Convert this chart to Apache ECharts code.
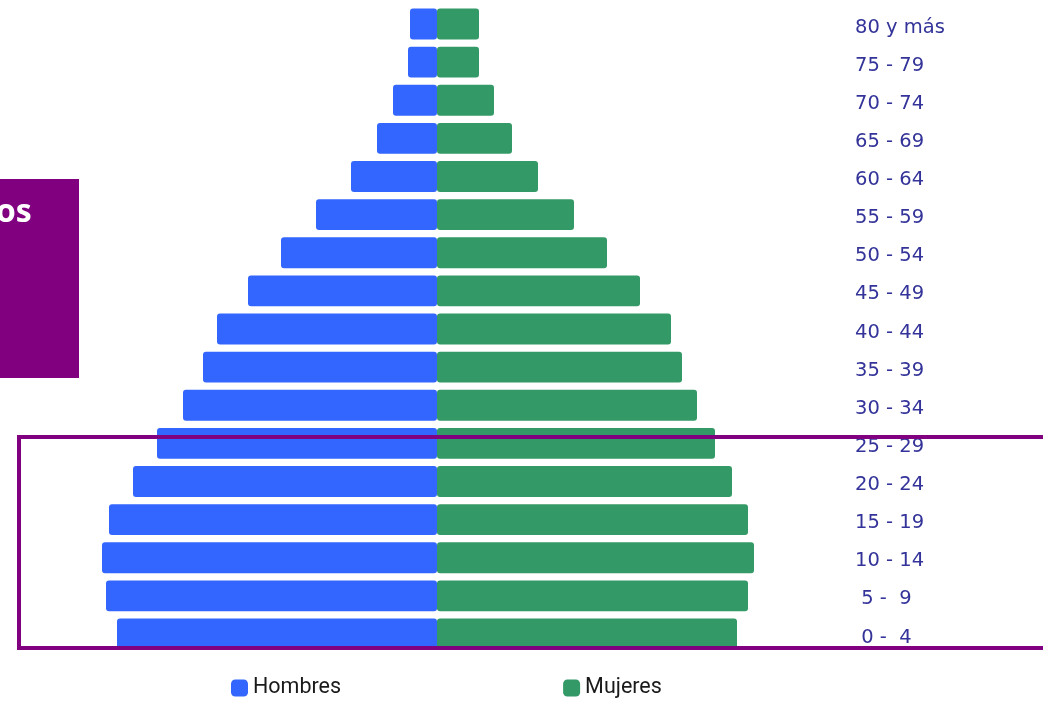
<!DOCTYPE html>
<html>
<head>
<meta charset="utf-8">
<script src="https://cdn.jsdelivr.net/npm/echarts@6/dist/echarts.min.js"></script>
<style>
  html, body { margin: 0; padding: 0; background: #fff; }
  #chart { width: 1043px; height: 702px; }
</style>
</head>
<body>
<div id="chart"></div>
<script>
// age groups, youngest first (category axis draws bottom -> top)
const ageGroups = [
  " 0 -  4", " 5 -  9", "10 - 14", "15 - 19", "20 - 24", "25 - 29",
  "30 - 34", "35 - 39", "40 - 44", "45 - 49", "50 - 54", "55 - 59",
  "60 - 64", "65 - 69", "70 - 74", "75 - 79", "80 y más"
];

// population (thousands)
const hombres = [640, 662, 670, 656, 608, 560, 508, 468, 440, 378, 312, 242, 172, 120, 88, 58, 54];
const mujeres = [600, 622, 634, 622, 590, 556, 520, 490, 468, 406, 340, 274, 202, 150, 114, 84, 84];

const chart = echarts.init(document.getElementById("chart"));

const option = {
  animation: false,
  grid: {
    left: 37,
    width: 800,
    top: 5,
    height: 648
  },
  legend: {
    left: 231,
    top: 677,
    padding: 0,
    itemWidth: 17,
    itemHeight: 17,
    itemGap: 222,
    icon: "roundRect",
    textStyle: {
      fontFamily: "Roboto",
      fontSize: 21.5,
      color: "#1a1a1a"
    },
    data: ["Hombres", "Mujeres"]
  },
  xAxis: {
    type: "value",
    min: -800,
    max: 800,
    show: false
  },
  yAxis: {
    type: "category",
    position: "right",
    data: ageGroups,
    axisLine: { show: false },
    axisTick: { show: false },
    axisLabel: {
      margin: 18,
      align: "left",
      formatter: (v) => "{a|" + v + "}",
      rich: {
        a: {
          color: "#333399",
          fontFamily: "DejaVu Sans",
          fontSize: 19.5,
          padding: [7, 0, 0, 0]
        }
      }
    }
  },
  series: [
    {
      name: "Hombres",
      type: "bar",
      stack: "pop",
      barCategoryGap: "19%",
      data: hombres.map((v) => -v),
      itemStyle: { color: "#3366ff", borderRadius: 3 }
    },
    {
      name: "Mujeres",
      type: "bar",
      stack: "pop",
      barCategoryGap: "19%",
      data: mujeres,
      itemStyle: { color: "#339966", borderRadius: 3 }
    }
  ],
  graphic: [
    {
      type: "rect",
      z: 100,
      shape: { x: 0, y: 179, width: 79, height: 199 },
      style: { fill: "#800080" }
    },
    {
      type: "text",
      z: 101,
      left: -4,
      top: 197,
      style: {
        text: "os",
        fill: "#ffffff",
        font: "bold 32px 'Open Sans'"
      }
    },
    {
      type: "rect",
      z: 100,
      shape: { x: 19, y: 437, width: 1100, height: 211 },
      style: { fill: "none", stroke: "#800080", lineWidth: 4 }
    }
  ]
};

chart.setOption(option);
</script>
</body>
</html>
